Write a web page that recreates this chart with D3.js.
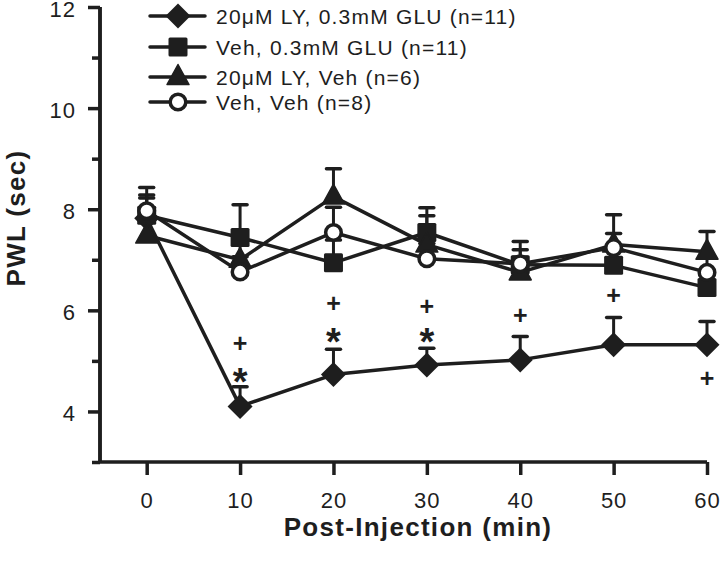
<!DOCTYPE html>
<html>
<head>
<meta charset="utf-8">
<script src="https://cdn.jsdelivr.net/npm/d3@7"></script>
<style>
  html, body { margin: 0; padding: 0; background: #fff; }
  svg { display: block; }
  text { font-family: "Liberation Sans", Arial, sans-serif; fill: #1e1e1e; }
</style>
</head>
<body>
<svg id="chart" width="720" height="572"></svg>
<script>
// ---- data ----
const times = [0, 10, 20, 30, 40, 50, 60];
const seriesNames = [
  "20μM LY, 0.3mM GLU (n=11)",
  "Veh, 0.3mM GLU (n=11)",
  "20μM LY, Veh (n=6)",
  "Veh, Veh (n=8)"
];
const lyGlu  = [7.82, 4.10, 4.73, 4.92, 5.02, 5.32, 5.32];
const vehGlu = [7.88, 7.44, 6.94, 7.54, 6.90, 6.89, 6.45];
const lyVeh  = [7.48, 7.00, 8.25, 7.30, 6.75, 7.30, 7.16];
const vehVeh = [7.97, 6.76, 7.54, 7.02, 6.92, 7.24, 6.75];
const lyGluErr  = [0.40, 0.39, 0.50, 0.33, 0.46, 0.54, 0.46];
const vehGluErr = [0.40, 0.65, 0.45, 0.49, 0.30, 0.30, 0.30];
const lyVehErr  = [0.40, 0.40, 0.55, 0.57, 0.30, 0.59, 0.40];
const vehVehErr = [0.46, 0.30, 0.50, 0.30, 0.44, 0.28, 0.30];
const markerKinds = ["diamond", "square", "triangle", "circle"];
const yTicksMajor = [4, 6, 8, 10, 12];
const yTicksMinor = [3, 5, 7, 9, 11];
const xTicks = [0, 10, 20, 30, 40, 50, 60];
const plusMarks = [[10, 5.34], [20, 6.13], [30, 6.07], [40, 5.90], [50, 6.29], [60, 4.65]];
const starMarks = [[10, 4.75], [20, 5.54], [30, 5.54]];
const xTitle = "Post-Injection (min)";
const yTitle = "PWL (sec)";

// ---- layout ----
const ink = "#1e1e1e";
const svg = d3.select("#chart");
const x = d3.scaleLinear().domain([-5, 60]).range([100, 707]);
const y = d3.scaleLinear().domain([3, 12]).range([462, 7]);

const values = [lyGlu, vehGlu, lyVeh, vehVeh];
const errs = [lyGluErr, vehGluErr, lyVehErr, vehVehErr];
const series = values.map((v, i) => ({
  name: seriesNames[i], kind: markerKinds[i],
  pts: times.map((t, j) => ({ t, v: v[j], e: errs[i][j] }))
}));

// ---- axes ----
const yAxisMajor = d3.axisLeft(y).tickValues(yTicksMajor).tickSize(12).tickPadding(12).tickFormat(d3.format("d"));
const gy = svg.append("g").attr("transform", `translate(${x(-5)},0)`).call(yAxisMajor);
const yAxisMinor = d3.axisLeft(y).tickValues(yTicksMinor).tickSize(8).tickFormat("");
const gy2 = svg.append("g").attr("transform", `translate(${x(-5)},0)`).call(yAxisMinor);
[gy, gy2].forEach(g => {
  g.select(".domain").attr("d", `M0,${y(12)}V${y(3)}`).attr("stroke", ink).attr("stroke-width", 3.5);
  g.selectAll(".tick line").attr("stroke", ink).attr("stroke-width", 3.5);
});
gy.selectAll(".tick text").attr("font-size", 22).attr("letter-spacing", 1).attr("dy", "0.41em")
  .attr("font-family", "Liberation Sans, Arial, sans-serif").attr("fill", ink);

const xAxis = d3.axisBottom(x).tickValues(xTicks).tickSize(13).tickPadding(17).tickFormat(d3.format("d"));
const gx = svg.append("g").attr("transform", `translate(0,${y(3)})`).call(xAxis);
gx.select(".domain").attr("d", `M${x(-5)},0H${x(60)}`).attr("stroke", ink).attr("stroke-width", 3.5);
gx.selectAll(".tick line").attr("stroke", ink).attr("stroke-width", 3.5);
gx.selectAll(".tick text").attr("font-size", 22).attr("letter-spacing", 1)
  .attr("font-family", "Liberation Sans, Arial, sans-serif").attr("fill", ink);

svg.append("text").text(xTitle)
  .attr("x", 418).attr("y", 536).attr("text-anchor", "middle")
  .attr("font-size", 26).attr("font-weight", "bold").attr("letter-spacing", 1.3);
svg.append("text").text(yTitle)
  .attr("transform", "translate(25,218) rotate(-90)").attr("text-anchor", "middle")
  .attr("font-size", 26).attr("font-weight", "bold").attr("letter-spacing", 1.3);

// ---- marker drawing ----
function drawMarker(g, kind, cx, cy) {
  if (kind === "diamond") {
    g.append("path").attr("d", `M${cx},${cy-12.5}L${cx+12.5},${cy}L${cx},${cy+12.5}L${cx-12.5},${cy}Z`).attr("fill", ink);
  } else if (kind === "square") {
    g.append("rect").attr("x", cx-9.5).attr("y", cy-9.5).attr("width", 19).attr("height", 19).attr("rx", 1.5).attr("fill", ink);
  } else if (kind === "triangle") {
    g.append("path").attr("d", `M${cx},${cy-12.5}L${cx+11},${cy+7.5}L${cx-11},${cy+7.5}Z`)
      .attr("fill", ink).attr("stroke", ink).attr("stroke-width", 1.5).attr("stroke-linejoin", "round");
  } else {
    g.append("circle").attr("cx", cx).attr("cy", cy).attr("r", 7.8).attr("fill", "#fff").attr("stroke", ink).attr("stroke-width", 3.5);
  }
}

const plot = svg.append("g");
const line = d3.line().x(d => x(d.t)).y(d => y(d.v));
series.forEach(s => {
  plot.append("path").datum(s.pts).attr("d", line).attr("fill", "none")
    .attr("stroke", ink).attr("stroke-width", 3.5).attr("stroke-linejoin", "round");
});
series.forEach(s => {
  s.pts.forEach(p => {
    plot.append("line").attr("x1", x(p.t)).attr("x2", x(p.t)).attr("y1", y(p.v)).attr("y2", y(p.v + p.e))
      .attr("stroke", ink).attr("stroke-width", 3);
    plot.append("line").attr("x1", x(p.t) - 7).attr("x2", x(p.t) + 7).attr("y1", y(p.v + p.e)).attr("y2", y(p.v + p.e))
      .attr("stroke", ink).attr("stroke-width", 3.5).attr("stroke-linecap", "round");
  });
});
series.forEach(s => {
  s.pts.forEach(p => drawMarker(plot, s.kind, x(p.t), y(p.v)));
});

// ---- significance marks ----
plusMarks.forEach(([t, v]) => {
  svg.append("text").text("+").attr("x", x(t)).attr("y", y(v) + 8.5)
    .attr("text-anchor", "middle").attr("font-size", 25).attr("font-weight", "bold");
});
starMarks.forEach(([t, v]) => {
  svg.append("text").text("*").attr("x", x(t)).attr("y", y(v) + 21)
    .attr("text-anchor", "middle").attr("font-size", 38).attr("font-weight", "bold");
});

// ---- legend ----
const legendY = [16, 47, 77, 102];
series.forEach((s, i) => {
  const g = svg.append("g");
  const ly = legendY[i];
  g.append("line").attr("x1", 150).attr("x2", 205).attr("y1", ly).attr("y2", ly)
    .attr("stroke", ink).attr("stroke-width", 3.5).attr("stroke-linecap", "round");
  drawMarker(g, s.kind, 178, ly);
  g.append("text").text(s.name).attr("x", 216).attr("y", ly + 7.5)
    .attr("font-size", 21).attr("letter-spacing", 1.2);
});
</script>
</body>
</html>
